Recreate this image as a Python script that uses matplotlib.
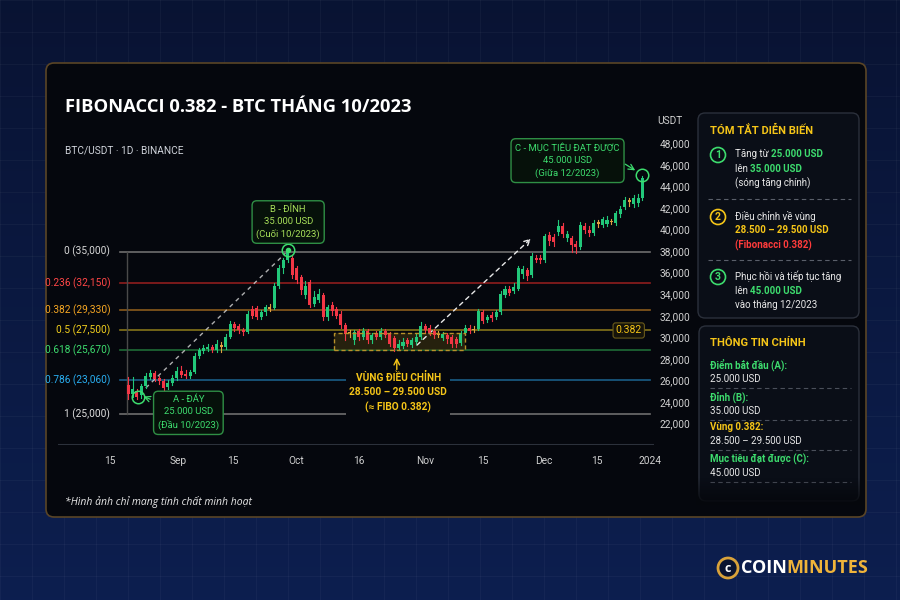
import numpy as np
import matplotlib.pyplot as plt
from matplotlib.patches import FancyBboxPatch, Rectangle, Circle

# ---- dữ liệu nến (giá theo trục USDT của hình) ----
opens = [25600, 24700, 25000, 24600, 25500, 26300, 26700, 26200, 25900, 25400,
         25800, 26200, 26900, 26600, 26400, 26800, 28300, 28700, 28900, 29100,
         28800, 29300, 29100, 30000, 31200, 31000, 30700, 30500, 32600, 32700,
         31900, 32300, 32800, 32700, 34800, 36400, 37200, 37400, 36400, 35600,
         33900, 35100, 33100, 33500, 33900, 31900, 33000, 32600, 32200, 31100,
         30500, 29700, 30600, 30000, 30600, 29700, 30400, 30000, 30600, 30300,
         29900, 29000, 29200, 29700, 29300, 29600, 30000, 31000, 30900, 30600,
         30200, 29900, 30200, 30000, 29800, 29500, 30400, 30900, 30700, 30800,
         32300, 31600, 32100, 31900, 32350, 33900, 34500, 34300, 34500, 35900,
         36200, 35800, 37400, 37400, 37200, 39500, 39300, 39800, 40300, 39200,
         39200, 38700, 38400, 40300, 40000, 39700, 40700, 40400, 40500, 40700,
         40600, 41400, 42100, 42700, 42400, 42500, 42900]
closes = [24700, 25200, 24500, 25500, 26400, 26700, 26100, 25900, 25300, 25800,
          26200, 26900, 26500, 26400, 26800, 28300, 28800, 29000, 29100, 28800,
          29400, 29100, 30000, 31200, 30900, 30700, 30500, 32200, 32000, 31900,
          32300, 32800, 32600, 34800, 36400, 37200, 37900, 35800, 35300, 34400,
          34800, 33000, 33700, 34000, 31900, 32800, 32400, 32000, 31100, 30300,
          30400, 30500, 30000, 30600, 29700, 30200, 30000, 30600, 30200, 29400,
          29000, 29400, 29600, 29400, 29700, 30000, 31000, 30700, 30400, 30200,
          30300, 30300, 29800, 29400, 29400, 30400, 30900, 30600, 30800, 32400,
          31500, 31900, 31750, 32350, 34050, 34500, 34100, 34700, 36400, 36300,
          35700, 37500, 37200, 37150, 39400, 38900, 38800, 40300, 39600, 39600,
          38550, 38350, 40400, 39950, 39700, 40600, 40500, 40950, 40900, 40800,
          41500, 41950, 42700, 42600, 42900, 42900, 44800]
highs = [26300, 26300, 25200, 25700, 26700, 27000, 26900, 26400, 26100, 26000,
         26500, 27200, 27300, 27000, 27000, 28500, 29000, 29300, 29400, 29300,
         29700, 29600, 30300, 31500, 31400, 31200, 30900, 32400, 32900, 32900,
         32500, 33000, 33100, 35000, 36700, 37400, 38100, 37600, 36600, 35800,
         35200, 35300, 34300, 34500, 34100, 33000, 33300, 32800, 32400, 31300,
         30700, 30700, 30800, 30900, 30800, 30400, 30600, 30900, 30800, 30500,
         30100, 29700, 29900, 29900, 29900, 30300, 31400, 31200, 31100, 30800,
         30600, 30500, 30400, 30200, 30000, 30600, 31100, 31100, 31000, 32600,
         32500, 32100, 32300, 32500, 34300, 34800, 34800, 35000, 36600, 36600,
         36400, 37800, 37600, 37600, 39600, 39800, 39600, 40900, 40600, 39900,
         39400, 38900, 40700, 40600, 40300, 40900, 40900, 41200, 41300, 41000,
         41700, 42200, 43000, 42900, 43200, 43300, 45000]
lows = [24300, 24500, 24300, 24400, 25300, 26100, 25900, 25700, 24900, 25200,
        25600, 26000, 26300, 26200, 26200, 26700, 28100, 28500, 28700, 28600,
        28600, 28600, 28900, 29900, 30600, 30400, 30200, 30400, 31800, 31700,
        31700, 32100, 32400, 32600, 34600, 36000, 37000, 35500, 35000, 34000,
        33600, 32800, 32900, 33300, 31600, 31600, 32100, 31800, 30900, 29700,
        30000, 29400, 29700, 29800, 29500, 29500, 29800, 29800, 30000, 29200,
        28700, 28800, 29000, 29200, 29100, 29400, 29800, 30500, 30200, 29900,
        30000, 29700, 29500, 29100, 29100, 29300, 30200, 30400, 30500, 30700,
        31300, 31400, 31500, 31700, 32200, 33700, 33900, 34100, 34400, 35500,
        35300, 35600, 37000, 36900, 37000, 38600, 38500, 39500, 39300, 38900,
        37900, 37800, 38200, 39700, 39400, 39500, 40200, 40200, 40300, 40500,
        40400, 41200, 41900, 42200, 42100, 42200, 42700]
doji_idx = [21, 32, 50, 70, 78, 106, 109, 113]

# mức Fibonacci: nhãn và vị trí trên trục
fib_labels = ['0 (35,000)', '0.236 (32,150)', '0.382 (29,330)', '0.5 (27,500)',
              '0.618 (25,670)', '0.786 (23,060)', '1 (25,000)']
fib_levels = [37950, 35050, 32520, 30630, 28810, 26000, 22860]
fib_text_colors = ['#d8d8d8', '#ff4646', '#f5a623', '#f2cf1d', '#3ddc6e', '#29aef0', '#e0e0e0']
fib_line_colors = ['#6e6e6e', '#8e1d1d', '#8a5a1c', '#85741a', '#1f6b36', '#1a5d86', '#6e6e6e']

y_ticks = list(range(22000, 48001, 2000))
x_tick_pos = [-4.1, 11.3, 23.6, 37.9, 52.0, 67.0, 80.1, 93.8, 105.8, 117.7]
x_tick_labels = ['15', 'Sep', '15', 'Oct', '16', 'Nov', '15', 'Dec', '15', '2024']

GREEN = '#3ddc6e'
GOLD = '#f5c518'
RED = '#ff3b3b'
FONT = ['Roboto', 'DejaVu Sans']
HEAD = ['Open Sans', 'DejaVu Sans']

fig = plt.figure(figsize=(9, 6), dpi=100)
bg = fig.add_axes([0, 0, 1, 1])
bg.set_xlim(0, 900)
bg.set_ylim(600, 0)
bg.axis('off')

# nền xanh đậm với lưới mờ
grad = np.linspace(0, 1, 200)[:, None]
top = np.array([0.035, 0.075, 0.20])
bot = np.array([0.05, 0.12, 0.31])
img = top + (bot - top) * grad[..., None]
bg.imshow(np.repeat(img, 2, axis=1), extent=[0, 900, 600, 0], aspect='auto', zorder=0)
for g in range(0, 901, 32):
    bg.axvline(g, color='white', alpha=0.035, lw=0.8, zorder=0.5)
for g in range(0, 601, 32):
    bg.axhline(g, color='white', alpha=0.035, lw=0.8, zorder=0.5)

# khung chính
bg.add_patch(FancyBboxPatch((46, 63), 820, 454, boxstyle='round,pad=0,rounding_size=8',
                            fc='#05070d', ec='#5a4526', lw=1.2, zorder=1))

bg.text(65, 107, 'FIBONACCI 0.382 - BTC THÁNG 10/2023', color='white', fontsize=13.2,
        fontweight='bold', family=HEAD, va='center', zorder=3)
bg.text(65, 151, 'BTC/USDT · 1D · BINANCE', color='#cfd3da', fontsize=7.3, family=FONT,
        va='center', zorder=3)
bg.text(670, 121, 'USDT', color='#d0d0d0', fontsize=7.3, family=FONT, va='center',
        ha='center', zorder=3)
bg.text(65, 502, '*Hình ảnh chỉ mang tính chất minh hoạt', color='#e8e8e8', fontsize=7.5,
        style='italic', family=HEAD, va='center', zorder=3)

# ---- biểu đồ nến ----
ax = fig.add_axes([58 / 900, 1 - 445 / 600, (654 - 58) / 900, (445 - 118) / 600])
ax.set_facecolor('none')
ax.set_xlim(-15.8, 118.6)
ax.set_ylim(20000, 50350)
for s in ax.spines.values():
    s.set_visible(False)
ax.yaxis.tick_right()
ax.set_yticks(y_ticks)
ax.set_yticklabels([f'{v:,}' for v in y_ticks])
ax.set_xticks(x_tick_pos)
ax.set_xticklabels(x_tick_labels)
ax.tick_params(length=0, colors='#d0d0d0', labelsize=7.3, pad=4)
ax.tick_params(axis='x', pad=8)
for lab in ax.get_xticklabels() + ax.get_yticklabels():
    lab.set_family(FONT)
ax.axhline(20000, color='#2c313b', lw=1.5)

for lvl, lab, tc, lc in zip(fib_levels, fib_labels, fib_text_colors, fib_line_colors):
    ax.plot([-1.8, 117.7], [lvl, lvl], color=lc, lw=1.2, zorder=1)
    ax.text(-4.0, lvl, lab, color=tc, fontsize=7.3, family=FONT, ha='right', va='center')
ax.plot([-0.2, -0.2], [fib_levels[-1], fib_levels[0]], color='#4a4a4a', lw=1, zorder=1)

# vùng điều chỉnh
ax.add_patch(Rectangle((46.5, 28810), 29.5, 1550, fc='#3d3410', alpha=0.6, ec='none', zorder=1.5))
ax.add_patch(Rectangle((46.5, 28810), 29.5, 1550, fc='none', ec='#b8922a', ls=(0, (3, 2)),
                       lw=1, zorder=4))

for i, (o, c, h, l) in enumerate(zip(opens, closes, highs, lows)):
    if i in doji_idx:
        col = '#e0a040'
    elif c >= o:
        col = '#22c87a'
    else:
        col = '#f23645'
    ax.plot([i, i], [l, h], color=col, lw=0.8, zorder=3)
    ax.add_patch(Rectangle((i - 0.34, min(o, c)), 0.68, max(abs(c - o), 80), fc=col, ec='none',
                           zorder=3))

# đường chéo nét đứt
ax.plot([4.0, 35.5], [25300, 37800], color='#d8d8d8', lw=1, ls=(0, (3, 3)), alpha=0.8, zorder=2)
ax.annotate('', xy=(91.3, 39330), xytext=(64.7, 29100),
            arrowprops=dict(arrowstyle='->', color='#e8e8e8', lw=1, ls=(0, (3, 3))), zorder=2)

ax.text(112.9, 30630, '0.382', color=GOLD, fontsize=7.5, family=FONT, ha='center', va='center',
        zorder=5, bbox=dict(boxstyle='round,pad=0.25', fc='#15130a', ec='#6a5a1a', lw=0.8))

# điểm A, B, C
for px, py in [(2.3, 24440), (36.1, 38100), (116.0, 45060)]:
    ax.plot(px, py, 'o', ms=9, mfc='none', mec=GREEN, mew=1.1, zorder=6)
ax.plot(36.1, 38100, 'o', ms=3, color=GREEN, zorder=6)

box = dict(boxstyle='round,pad=0.45,rounding_size=0.5', fc='#06110a', ec='#2f8f45', lw=1)
ax.text(13.6, 22990, 'A - ĐÁY\n25.000 USD\n(Đầu 10/2023)', color=GREEN, fontsize=6.8,
        family=FONT, ha='center', va='center', linespacing=1.45, bbox=box, zorder=7)
ax.text(36.1, 40700, 'B - ĐỈNH\n35.000 USD\n(Cuối 10/2023)', color='#a8e05a', fontsize=6.8,
        family=FONT, ha='center', va='center', linespacing=1.45, bbox=box, zorder=7)
ax.text(99.1, 46400, 'C - MỤC TIÊU ĐẠT ĐƯỢC\n45.000 USD\n(Giữa 12/2023)', color=GREEN,
        fontsize=6.8, family=FONT, ha='center', va='center', linespacing=1.45, bbox=box, zorder=7)
ax.annotate('', xy=(2.9, 24600), xytext=(5.6, 24150),
            arrowprops=dict(arrowstyle='->', color=GREEN, lw=0.9), zorder=7)
ax.annotate('', xy=(114.9, 45350), xytext=(111.6, 46200),
            arrowprops=dict(arrowstyle='->', color=GREEN, lw=0.9), zorder=7)

ax.annotate('', xy=(60.6, 28350), xytext=(60.6, 26750),
            arrowprops=dict(arrowstyle='->', color=GOLD, lw=1), zorder=7)
ax.text(60.9, 24850, 'VÙNG ĐIỀU CHỈNH\n28.500 – 29.500 USD\n(≈ FIBO 0.382)', color=GOLD,
        fontsize=7.3, fontweight='bold', family=FONT, ha='center', va='center', linespacing=1.5,
        zorder=7, bbox=dict(boxstyle='square,pad=0.3', fc='#05070d', ec='none'))

# ---- các thẻ bên phải ----
card = dict(boxstyle='round,pad=0,rounding_size=7', fc='#0a0e17', ec='#2b303b', lw=1, zorder=2)
bg.add_patch(FancyBboxPatch((698, 113), 161, 205, **card))
bg.add_patch(FancyBboxPatch((699, 326), 160, 175, **card))
fade = np.zeros((40, 2, 4))
fade[..., :3] = [0.02, 0.03, 0.05]
fade[..., 3] = np.linspace(0, 1, 40)[:, None]
bg.imshow(fade, extent=[696, 862, 505, 478], aspect='auto', zorder=2.5)

bg.text(710, 130, 'TÓM TẮT DIỄN BIẾN', color=GOLD, fontsize=8, fontweight='bold',
        family=FONT, va='center', zorder=3)


def rich(x, y, parts, size=7, family=FONT):
    # ghép nhiều đoạn chữ khác màu trên một dòng
    t = None
    for s, col, bold in parts:
        kw = dict(color=col, fontsize=size, family=family, zorder=3,
                  fontweight='bold' if bold else 'normal')
        if t is None:
            t = bg.text(x, y, s, va='center', **kw)
        else:
            t = bg.annotate(s, xycoords=t, xy=(1, 0), va='bottom', **kw)
    return t


for num, cy, col in [('1', 155, GREEN), ('2', 217, GOLD), ('3', 277, GREEN)]:
    bg.add_patch(Circle((718, cy), 7.5, fc='none', ec=col, lw=1.2, zorder=3))
    bg.text(718, cy, num, color=col, fontsize=7.5, fontweight='bold', family=FONT,
            ha='center', va='center', zorder=3)

rich(735, 154, [('Tăng từ ', '#e8e8e8', False), ('25.000 USD', GREEN, True)])
rich(735, 168.5, [('lên ', '#e8e8e8', False), ('35.000 USD', GREEN, True)])
rich(735, 183, [('(sóng tăng chính)', '#e8e8e8', False)])
rich(735, 216, [('Điều chỉnh về vùng', '#e8e8e8', False)])
rich(735, 230, [('28.500 – 29.500 USD', GOLD, True)])
rich(735, 245, [('(Fibonacci 0.382)', RED, True)])
rich(735, 276, [('Phục hồi và tiếp tục tăng', '#e8e8e8', False)])
rich(735, 291, [('lên ', '#e8e8e8', False), ('45.000 USD', GREEN, True)])
rich(735, 305, [('vào tháng 12/2023', '#e8e8e8', False)])
for sy in [199, 260]:
    bg.plot([708, 851], [sy, sy], color='#5a5f6a', lw=0.8, ls=(0, (4, 3)), zorder=3)

bg.text(710, 343, 'THÔNG TIN CHÍNH', color=GOLD, fontsize=8, fontweight='bold',
        family=FONT, va='center', zorder=3)
info = [('Điểm bắt đầu (A):', GREEN, '25.000 USD', 365),
        ('Đỉnh (B):', GREEN, '35.000 USD', 397),
        ('Vùng 0.382:', GOLD, '28.500 – 29.500 USD', 427),
        ('Mục tiêu đạt được (C):', GREEN, '45.000 USD', 459)]
for head, col, val, yy in info:
    rich(710, yy, [(head, col, True)])
    rich(710, yy + 14, [(val, '#e8e8e8', False)])
    bg.plot([710, 851], [yy + 23, yy + 23], color='#4a4f5a', lw=0.8, ls=(0, (4, 3)), zorder=2)

# ---- logo ----
bg.add_patch(Circle((728, 568), 10, fc='#0a1330', ec='#d9a23a', lw=2, zorder=3))
bg.text(728, 568.5, 'c', color='white', fontsize=9, fontweight='bold', family=HEAD,
        ha='center', va='center', zorder=4)
rich(741, 568, [('COIN', 'white', True), ('MINUTES', '#f0b43a', True)], size=13, family=HEAD)

fig.savefig('out.png', dpi=100, facecolor=fig.get_facecolor())
